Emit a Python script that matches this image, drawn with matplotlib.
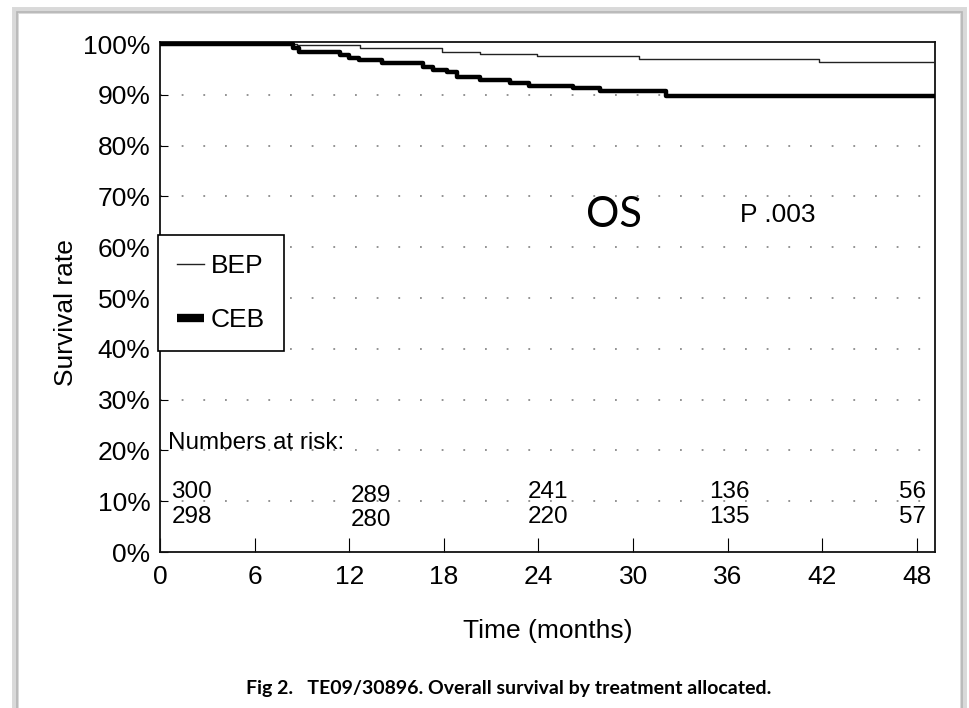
"""
Kaplan-Meier style overall survival plot (BEP vs CEB) with numbers at risk.
"""
import matplotlib
matplotlib.use("Agg")
import matplotlib.pyplot as plt
from matplotlib.lines import Line2D
from matplotlib.patches import Rectangle

# step curves: time (months) where the survival changes, and the value after it
bep_times = [0, 8.7, 12.7, 17.9, 20.3, 23.9, 30.4, 41.8, 49.1]
bep_surv = [100, 99.8, 99.2, 98.4, 98.0, 97.6, 97.1, 96.4, 96.4]

ceb_times = [0, 8.4, 8.8, 11.4, 12.0, 12.6, 14.1, 16.7, 17.3, 18.2, 18.8,
             20.3, 22.2, 23.4, 26.2, 27.9, 32.1, 49.1]
ceb_surv = [100, 99.2, 98.5, 97.8, 97.2, 96.9, 96.2, 95.5, 94.9, 94.4, 93.6,
            92.9, 92.3, 91.7, 91.3, 90.8, 89.8, 89.8]

# numbers at risk
risk_x = [2.0, 13.4, 24.6, 36.1, 47.7]
risk_bep = [300, 289, 241, 136, 56]
risk_ceb = [298, 280, 220, 135, 57]
risk_y_bep = [11.8, 11.0, 11.8, 11.8, 11.8]
risk_y_ceb = [6.9, 6.3, 6.9, 6.9, 6.9]

x_ticks = [0, 6, 12, 18, 24, 30, 36, 42, 48]
y_ticks = list(range(0, 101, 10))
grid_levels = list(range(10, 100, 10))

FONT = ["Liberation Sans", "DejaVu Sans"]
plt.rcParams["font.family"] = FONT

fig = plt.figure(figsize=(9.7, 7.08), dpi=100)
fig.patch.set_facecolor("white")
ax = fig.add_axes([0.165, 0.2203, 0.799, 0.7204])

# dotted horizontal guides
for lv in grid_levels:
    ax.axhline(lv, color="#8a8a8a", lw=1.3, linestyle=(0, (1, 11)), zorder=1)

ax.step(bep_times, bep_surv, where="post", color="#222222", lw=1.0, zorder=3)
ax.step(ceb_times, ceb_surv, where="post", color="black", lw=3.2, zorder=4)

ax.set_xlim(0, 49.15)
ax.set_ylim(0, 100.4)
ax.set_xticks(x_ticks)
ax.set_yticks(y_ticks)
ax.set_yticklabels([f"{v}%" for v in y_ticks])
ax.tick_params(axis="both", direction="in", labelsize=19, colors="black")
ax.tick_params(axis="y", length=6, pad=7)
ax.tick_params(axis="x", length=10, pad=9)
for s in ax.spines.values():
    s.set_linewidth(1.3)
    s.set_color("#111111")

ax.set_xlabel("Time (months)", fontsize=19, labelpad=22)
ax.set_ylabel("Survival rate", fontsize=19)
ax.yaxis.set_label_coords(-0.106, 0.47)

# numbers at risk
ax.text(0.5, 21.5, "Numbers at risk:", fontsize=17.5, ha="left", va="center",
        zorder=5)
for x, nb, nc, yb, yc in zip(risk_x, risk_bep, risk_ceb, risk_y_bep, risk_y_ceb):
    ax.text(x, yb, str(nb), fontsize=17.5, ha="center", va="center", zorder=5)
    ax.text(x, yc, str(nc), fontsize=17.5, ha="center", va="center", zorder=5)

# annotations
ax.text(28.8, 66.3, "OS", fontsize=30, ha="center", va="center",
        family=["Lato", "DejaVu Sans"])
ax.text(39.2, 66.3, "P .003", fontsize=19, ha="center", va="center")

handles = [Line2D([], [], color="#222222", lw=1.0),
           Line2D([], [], color="black", lw=6, solid_capstyle="butt")]
leg = ax.legend(handles, ["BEP", "CEB"], loc="upper left",
                bbox_to_anchor=(-0.003, 0.6215), borderaxespad=0,
                fontsize=19, frameon=True, fancybox=False, framealpha=1,
                edgecolor="black", borderpad=0.72, labelspacing=1.15,
                handlelength=1.05, handletextpad=0.25)
leg.get_frame().set_linewidth(1.2)
leg.set_zorder(6)

fig.text(0.524, 0.028,
         "Fig 2.   TE09/30896. Overall survival by treatment allocated.",
         fontsize=14, fontweight="bold", ha="center", va="center",
         family=["Lato", "DejaVu Sans"])

# page frame with a soft shadow
fig.add_artist(Rectangle((0.0155, -0.02), 0.977, 1.006,
                         transform=fig.transFigure, fill=False,
                         edgecolor="#d9d9d9", lw=5))
fig.add_artist(Rectangle((0.0175, -0.02), 0.974, 1.003,
                         transform=fig.transFigure, fill=False,
                         edgecolor="#b5b5b5", lw=1.2))

fig.savefig("out.png", dpi=100, facecolor="white")
